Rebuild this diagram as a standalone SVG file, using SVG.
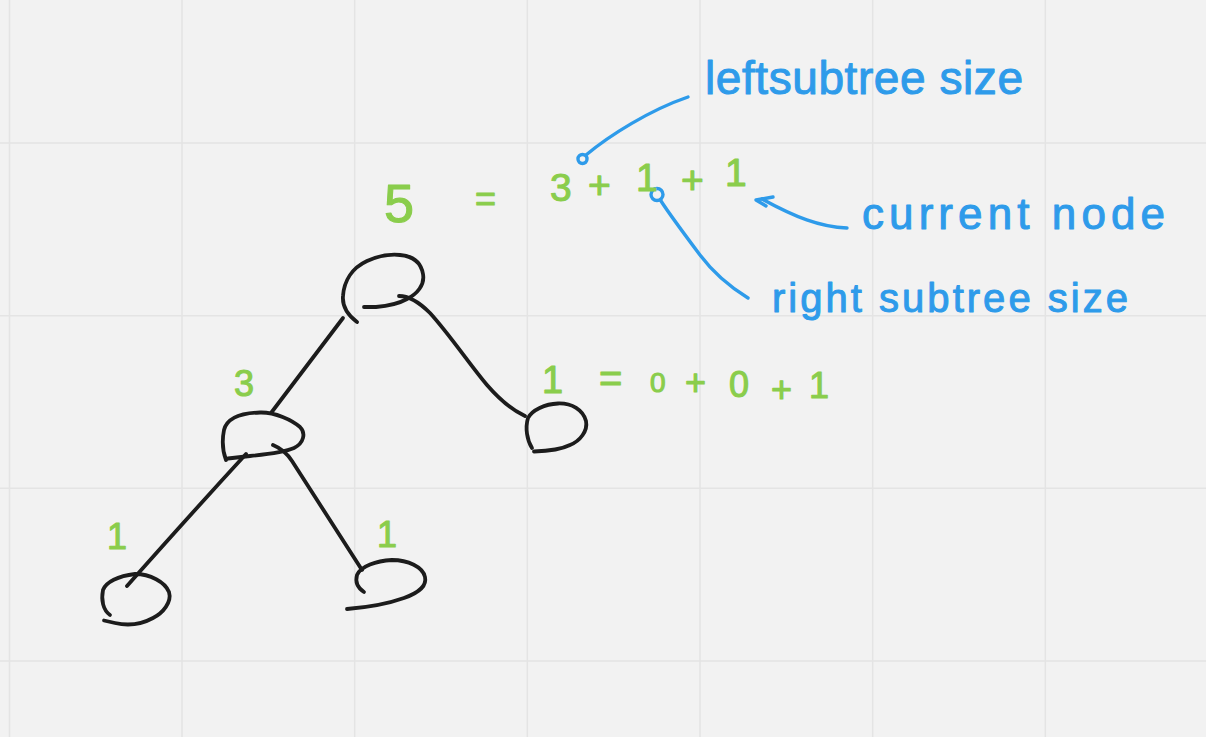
<svg xmlns="http://www.w3.org/2000/svg" width="1206" height="737" viewBox="0 0 1206 737">
<style>
.grid{stroke:#e4e4e4;stroke-width:1.5;fill:none}
.ink{fill:none;stroke:#1c1c1c;stroke-width:3.8;stroke-linecap:round;stroke-linejoin:round}
.pen{fill:none;stroke:#2e9bea;stroke-width:3.4;stroke-linecap:round;stroke-linejoin:round}
.g{font-family:"Liberation Sans","DejaVu Sans",sans-serif;fill:#8acd4c;stroke:#8acd4c;stroke-width:1.1;stroke-linejoin:round;font-size:36px}
.b{font-family:"Liberation Sans","DejaVu Sans",sans-serif;fill:#2e9bea;stroke:#2e9bea;stroke-width:1;stroke-linejoin:round}
</style>
<rect width="1206" height="737" fill="#f2f2f2"/>
<g id="grid" class="grid">
<path d="M9.5 0V737M182 0V737M354.7 0V737M527.3 0V737M700 0V737M872.7 0V737M1045.3 0V737"/>
<path d="M0 143H1206M0 315.7H1206M0 488.3H1206M0 661H1206"/>
</g>
<g id="connectors">
<path class="ink" d="M399,296 C410,296 420,303 430,313 C450,335 470,365 487,385 C500,400 512,410 525,416"/>
<path class="ink" d="M343,318 Q305,368 271,413"/>
<path class="ink" d="M246,454 Q190,515 127,586"/>
<path class="ink" d="M273,445 Q285,450 292,461 Q330,520 362,570"/>
<path class="pen" d="M688,97 C650,110 610,135 586,155"/>
<circle class="pen" cx="582.5" cy="159" r="4.5"/>
<path class="pen" d="M847,228 C820,227 795,217 762,199"/>
<path class="pen" d="M773,197 L756,200 L766,206"/>
<path class="pen" d="M748,298 C735,290 715,275 700,255 C685,235 670,215 661,201"/>
<circle class="pen" cx="657" cy="194.5" r="6"/>
</g>
<g id="node-root">
<path class="ink" d="M357,322 C349,316 342,307 343,296 C344,281 352,268 367,261 C378,256 390,254 400,255 C412,256 421,262 423,274 C425,285 417,294 407,299 C398,304 388,306 376,307 L364,307"/>
<text class="g"><tspan x="384" y="222" font-size="54">5</tspan> <tspan x="475" y="211">=</tspan> <tspan x="550 588 636 681 725" y="201 198 191 193 186" font-size="39">3+1+1</tspan></text>
</g>
<g id="node-left">
<path class="ink" d="M226,460 C223,452 222,440 224,430 C227,418 242,413 260,412.5 C275,412 292,420 300,427 C306,433 304,443 294,448 C285,452 270,454 250,456 L228,458.5"/>
<text class="g" x="234" y="396" font-size="42">3</text>
</g>
<g id="node-right">
<path class="ink" d="M532,448 C527,440 525,428 528,418 C532,410 545,404 558,403.5 C572,403 583,410 586,421 C588,431 580,441 570,445 C562,449 550,451 534,451.5"/>
<text class="g"><tspan x="542" y="393" font-size="38">1</tspan> <tspan x="599" y="392" font-size="40">=</tspan> <tspan x="650" y="392" font-size="28">0</tspan><tspan x="685" y="395">+</tspan><tspan x="729" y="397" font-size="36">0</tspan><tspan x="771 809" y="402 398">+1</tspan></text>
</g>
<g id="node-left-left">
<path class="ink" d="M110,615 C103,610 101,600 103,590 C106,582 118,576 135,574 C150,574 165,582 169,592 C172,602 163,613 153,618 C142,624 128,626 115,623 L104,620.5"/>
<text class="g" x="107" y="549" font-size="42">1</text>
</g>
<g id="node-left-right">
<path class="ink" d="M364,592 C358,588 355,582 357,575 C361,566 376,561 392,560 C408,560 423,567 425,577 C427,586 418,593 404,598 C390,603 372,607 347,609"/>
<text class="g" x="377" y="547" font-size="40">1</text>
</g>
<g id="annotations">
<text class="b" x="705" y="94" font-size="46" textLength="318" lengthAdjust="spacing">leftsubtree size</text>
<text class="b" x="862" y="229" font-size="44" textLength="303" lengthAdjust="spacing">current node</text>
<text class="b" x="772" y="312" font-size="40" textLength="356" lengthAdjust="spacing">right subtree size</text>
</g>
</svg>
